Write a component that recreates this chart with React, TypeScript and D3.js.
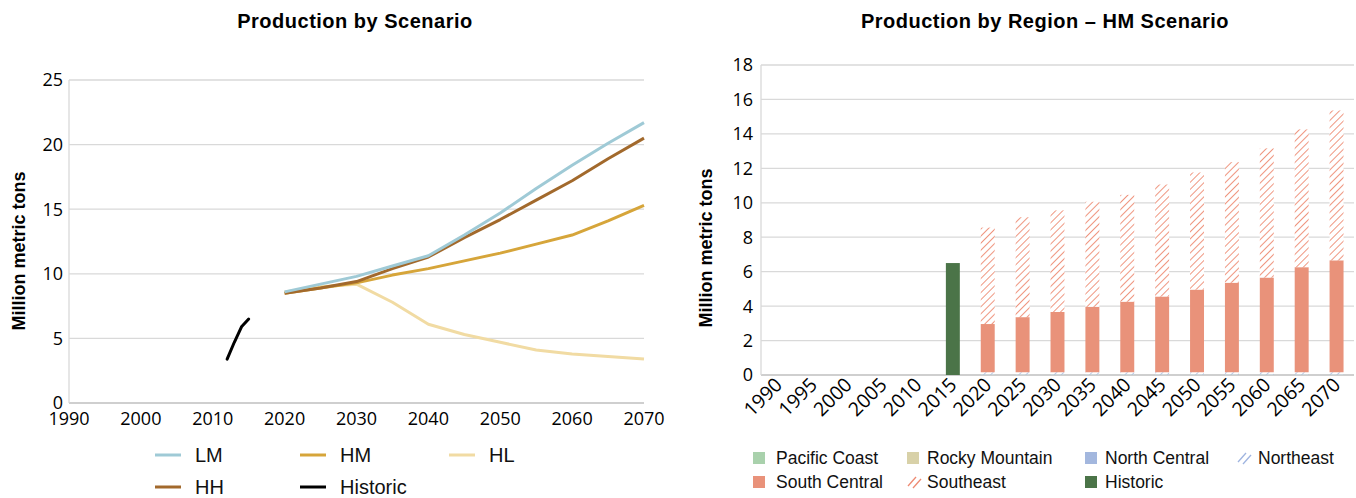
import React from "react";
import * as d3 from "d3";

// ---------- Left chart data ----------
const projYears = [2020, 2025, 2030, 2035, 2040, 2045, 2050, 2055, 2060, 2065, 2070];
const LM = [8.6, 9.2, 9.8, 10.6, 11.4, 13.0, 14.7, 16.6, 18.4, 20.1, 21.7];
const HH = [8.5, 8.9, 9.4, 10.4, 11.3, 12.8, 14.2, 15.7, 17.2, 18.9, 20.5];
const HM = [8.5, 8.9, 9.3, 9.9, 10.4, 11.0, 11.6, 12.3, 13.0, 14.1, 15.3];
const HL = [8.6, 9.0, 9.2, 7.8, 6.1, 5.3, 4.7, 4.1, 3.8, 3.6, 3.4];
const histYears = [2012, 2013, 2014, 2015];
const Historic = [3.4, 4.7, 5.9, 6.5];
const leftXTicks = [1990, 2000, 2010, 2020, 2030, 2040, 2050, 2060, 2070];
const leftYTicks = [0, 5, 10, 15, 20, 25];

// ---------- Right chart data ----------
const barYears = ["1990", "1995", "2000", "2005", "2010", "2015", "2020", "2025", "2030", "2035", "2040", "2045", "2050", "2055", "2060", "2065", "2070"];
const pacificCoast = [0, 0, 0, 0, 0, 0, 0.02, 0.02, 0.02, 0.02, 0.02, 0.02, 0.02, 0.02, 0.02, 0.02, 0.02];
const rockyMountain = [0, 0, 0, 0, 0, 0, 0, 0, 0, 0, 0, 0, 0, 0, 0, 0, 0];
const northCentral = [0, 0, 0, 0, 0, 0, 0.02, 0.02, 0.02, 0.02, 0.02, 0.02, 0.02, 0.02, 0.02, 0.02, 0.02];
const northeast = [0, 0, 0, 0, 0, 0, 0.12, 0.12, 0.12, 0.12, 0.12, 0.12, 0.12, 0.12, 0.12, 0.12, 0.12];
const southCentral = [0, 0, 0, 0, 0, 0, 2.8, 3.2, 3.5, 3.8, 4.1, 4.4, 4.8, 5.2, 5.5, 6.1, 6.5];
const southeast = [0, 0, 0, 0, 0, 0, 5.6, 5.8, 5.9, 6.1, 6.2, 6.5, 6.8, 7.0, 7.5, 8.0, 8.7];
const historicBar = [0, 0, 0, 0, 0, 6.5, 0, 0, 0, 0, 0, 0, 0, 0, 0, 0, 0];
const rightYTicks = [0, 2, 4, 6, 8, 10, 12, 14, 16, 18];

const COLORS = {
  LM: "#9fcad6",
  HH: "#a2692c",
  HM: "#d6a53a",
  HL: "#f1dba3",
  Historic: "#000000",
  pacific: "#a9d1ac",
  rocky: "#d8d1a8",
  northCentral: "#a3b7de",
  northeast: "#9fb4e0",
  southCentral: "#e9927a",
  southeast: "#ee8a72",
  historicBar: "#4b7448",
  grid: "#d9d9d9",
};

const tickFont = "'Open Sans', sans-serif";
const sansFont = "'Liberation Sans', Arial, sans-serif";

export default function App() {
  // Left scales
  const lx = d3.scaleLinear().domain([1990, 2070]).range([69, 644]);
  const ly = d3.scaleLinear().domain([0, 25]).range([403, 80]);
  const line = d3
    .line<[number, number]>()
    .x((d) => lx(d[0]))
    .y((d) => ly(d[1]));
  const series = [
    { name: "HL", vals: HL, color: COLORS.HL },
    { name: "HM", vals: HM, color: COLORS.HM },
    { name: "HH", vals: HH, color: COLORS.HH },
    { name: "LM", vals: LM, color: COLORS.LM },
  ];

  // Right scales
  const rx = d3.scaleBand<string>().domain(barYears).range([761, 1354]).paddingInner(0.6).paddingOuter(0.3);
  const ry = d3.scaleLinear().domain([0, 18]).range([375, 65]);

  const stackKeys = ["pacific", "rocky", "northCentral", "northeast", "southCentral", "southeast", "historicBar"];
  const stackArrays: Record<string, number[]> = {
    pacific: pacificCoast,
    rocky: rockyMountain,
    northCentral: northCentral,
    northeast: northeast,
    southCentral: southCentral,
    southeast: southeast,
    historicBar: historicBar,
  };
  const table = barYears.map((y, i) => {
    const row: any = { year: y };
    stackKeys.forEach((k) => (row[k] = stackArrays[k][i]));
    return row;
  });
  const stacked = d3.stack<any>().keys(stackKeys)(table);
  const fillFor = (k: string) => {
    if (k === "southeast") return "url(#hatchSE)";
    if (k === "northeast") return "url(#hatchNE)";
    return (COLORS as any)[k];
  };

  const leftLegend = [
    { name: "LM", color: COLORS.LM, x: 155, y: 455 },
    { name: "HM", color: COLORS.HM, x: 300, y: 455 },
    { name: "HL", color: COLORS.HL, x: 449, y: 455 },
    { name: "HH", color: COLORS.HH, x: 155, y: 487 },
    { name: "Historic", color: COLORS.Historic, x: 300, y: 487 },
  ];

  const rightLegend = [
    { name: "Pacific Coast", fill: COLORS.pacific, x: 753, tx: 776, y: 451 },
    { name: "Rocky Mountain", fill: COLORS.rocky, x: 907, tx: 927, y: 451 },
    { name: "North Central", fill: COLORS.northCentral, x: 1085, tx: 1105, y: 451 },
    { name: "Northeast", fill: "hatchNE", x: 1237, tx: 1258, y: 451 },
    { name: "South Central", fill: COLORS.southCentral, x: 753, tx: 776, y: 475 },
    { name: "Southeast", fill: "hatchSE", x: 907, tx: 927, y: 475 },
    { name: "Historic", fill: COLORS.historicBar, x: 1085, tx: 1105, y: 475 },
  ];

  return (
    <svg
      width={1356}
      height={498}
      style={{ position: "absolute", left: 0, top: 0, background: "#fff" }}
    >
      <defs>
        <pattern id="hatchSE" patternUnits="userSpaceOnUse" width="5" height="5" patternTransform="rotate(45)">
          <rect width="5" height="5" fill="#fff" />
          <line x1="0" y1="0" x2="0" y2="5" stroke={COLORS.southeast} strokeWidth="1.8" />
        </pattern>
        <pattern id="hatchNE" patternUnits="userSpaceOnUse" width="5" height="5" patternTransform="rotate(45)">
          <rect width="5" height="5" fill="#fff" />
          <line x1="0" y1="0" x2="0" y2="5" stroke={COLORS.northeast} strokeWidth="1.5" />
        </pattern>
      </defs>
      <rect x={0} y={0} width={1356} height={498} fill="#fff" />

      {/* ---------------- Left chart ---------------- */}
      <text x={355} y={28} textAnchor="middle" fontFamily={sansFont} fontWeight="bold" fontSize={20} letterSpacing={0.5} fill="#000">
        Production by Scenario
      </text>
      {leftYTicks.map((t) => (
        <g key={"lg" + t}>
          <line x1={lx(1990)} x2={lx(2070)} y1={ly(t)} y2={ly(t)} stroke={t === 0 ? "#bfbfbf" : COLORS.grid} strokeWidth={1.3} />
          <text x={63} y={ly(t)} dy="0.36em" textAnchor="end" fontFamily={tickFont} fontSize={18} fill="#000">
            {t}
          </text>
        </g>
      ))}
      <line x1={lx(1990)} x2={lx(1990)} y1={ly(25)} y2={ly(0)} stroke={COLORS.grid} strokeWidth={1.3} />
      {leftXTicks.map((t) => (
        <text key={"lx" + t} x={lx(t)} y={425} textAnchor="middle" fontFamily={tickFont} fontSize={18} fill="#000">
          {t}
        </text>
      ))}
      <text
        transform={`translate(25,251) rotate(-90)`}
        textAnchor="middle"
        fontFamily={sansFont}
        fontWeight="bold"
        fontSize={18}
        fill="#000"
      >
        Million metric tons
      </text>
      {series.map((s) => (
        <path
          key={s.name}
          d={line(projYears.map((y, i) => [y, s.vals[i]] as [number, number])) || ""}
          fill="none"
          stroke={s.color}
          strokeWidth={3}
          strokeLinejoin="round"
        />
      ))}
      <path
        d={line(histYears.map((y, i) => [y, Historic[i]] as [number, number])) || ""}
        fill="none"
        stroke={COLORS.Historic}
        strokeWidth={3}
        strokeLinejoin="round"
        strokeLinecap="round"
      />
      {leftLegend.map((l) => (
        <g key={"ll" + l.name}>
          <line x1={l.x} x2={l.x + 26} y1={l.y} y2={l.y} stroke={l.color} strokeWidth={3} />
          <text x={l.x + 40} y={l.y + 7} fontFamily={sansFont} fontSize={20} fill="#111">
            {l.name}
          </text>
        </g>
      ))}

      {/* ---------------- Right chart ---------------- */}
      <text x={1045} y={28} textAnchor="middle" fontFamily={sansFont} fontWeight="bold" fontSize={20} letterSpacing={0.5} fill="#000">
        Production by Region – HM Scenario
      </text>
      {rightYTicks.map((t) => (
        <g key={"rg" + t}>
          <line x1={761} x2={1354} y1={ry(t)} y2={ry(t)} stroke={t === 0 ? "#bfbfbf" : COLORS.grid} strokeWidth={1.3} />
          <text x={753} y={ry(t)} dy="0.36em" textAnchor="end" fontFamily={tickFont} fontSize={18} fill="#000">
            {t}
          </text>
        </g>
      ))}
      <line x1={761} x2={761} y1={ry(18)} y2={ry(0)} stroke={COLORS.grid} strokeWidth={1.3} />
      <text
        transform={`translate(712,248) rotate(-90)`}
        textAnchor="middle"
        fontFamily={sansFont}
        fontWeight="bold"
        fontSize={18}
        fill="#000"
      >
        Million metric tons
      </text>
      {stacked.map((layer) => (
        <g key={layer.key}>
          {layer.map((d, i) =>
            d[1] - d[0] > 0 ? (
              <rect
                key={i}
                x={rx(barYears[i])}
                width={rx.bandwidth()}
                y={ry(d[1])}
                height={ry(d[0]) - ry(d[1])}
                fill={fillFor(layer.key as string)}
              />
            ) : null
          )}
        </g>
      ))}
      {barYears.map((y) => {
        const cx = (rx(y) || 0) + rx.bandwidth() / 2 + 5;
        return (
          <text
            key={"rx" + y}
            transform={`translate(${cx},386) rotate(-45)`}
            textAnchor="end"
            fontFamily={tickFont}
            fontSize={19.5}
            fill="#000"
          >
            {y}
          </text>
        );
      })}
      {rightLegend.map((l) => (
        <g key={"rl" + l.name}>
          {l.fill === "hatchNE" || l.fill === "hatchSE" ? (
            <g>
              <line x1={l.x + 1} y1={l.y + 11} x2={l.x + 9} y2={l.y + 2} stroke={l.fill === "hatchNE" ? COLORS.northeast : COLORS.southeast} strokeWidth={1.3} />
              <line x1={l.x + 6} y1={l.y + 13} x2={l.x + 14} y2={l.y + 4} stroke={l.fill === "hatchNE" ? COLORS.northeast : COLORS.southeast} strokeWidth={1.3} />
            </g>
          ) : (
            <rect x={l.x} y={l.y + 1} width={12} height={12} fill={l.fill} />
          )}
          <text x={l.tx} y={l.y + 13} fontFamily={sansFont} fontSize={17.5} fill="#111">
            {l.name}
          </text>
        </g>
      ))}
    </svg>
  );
}
